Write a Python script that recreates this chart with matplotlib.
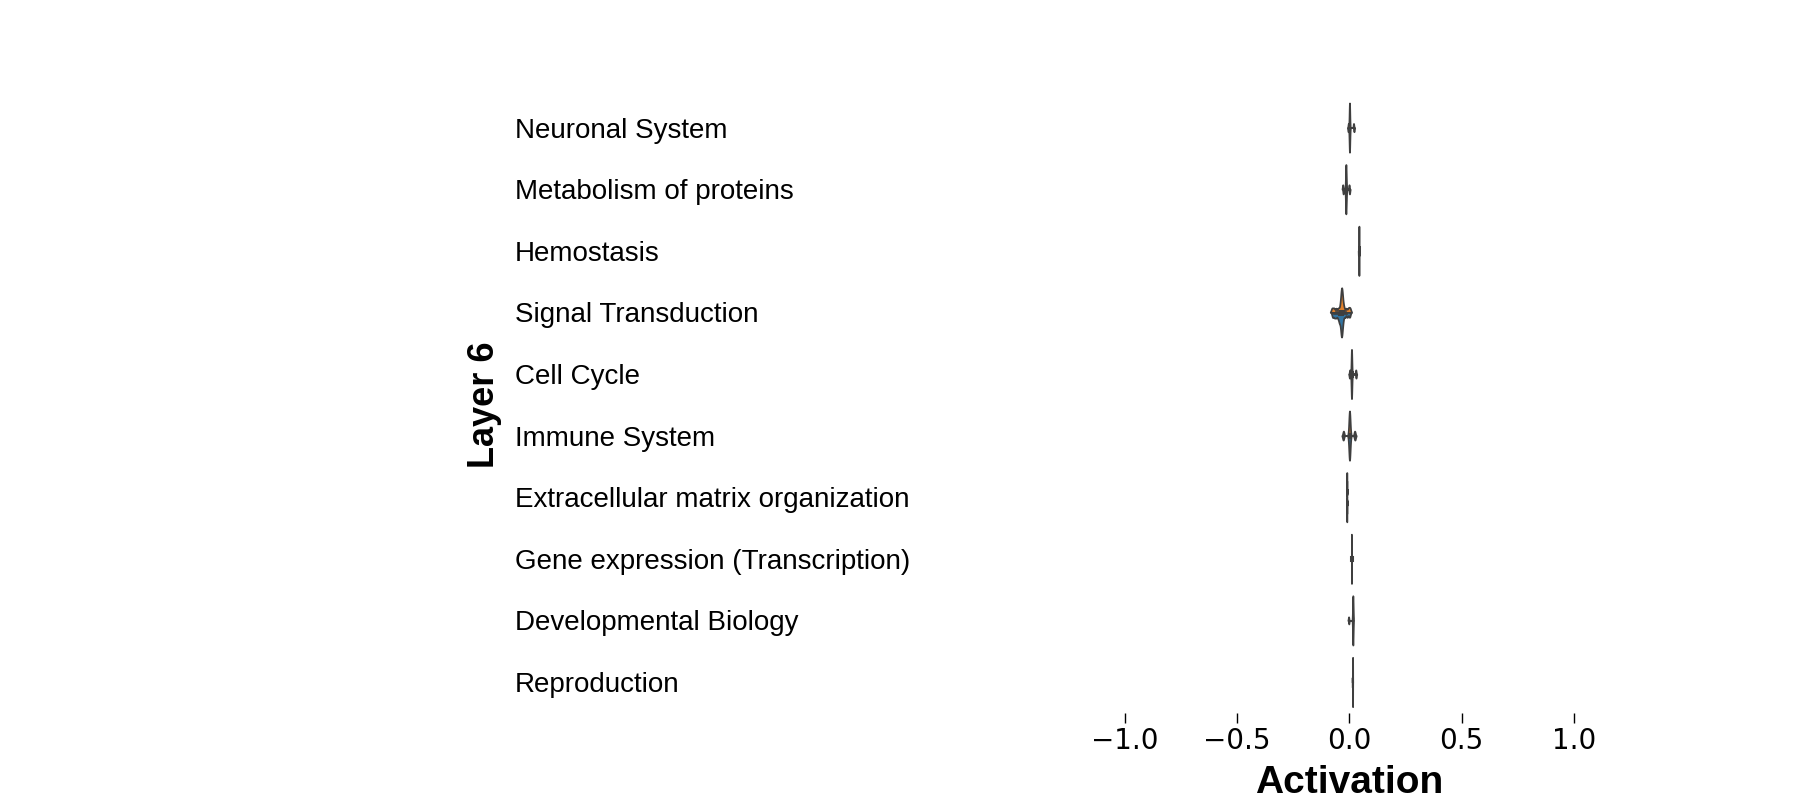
import matplotlib
matplotlib.use("Agg")
from matplotlib import pyplot as plt
import seaborn as sns
import pandas as pd

pathways = ["Neuronal System", "Metabolism of proteins", "Hemostasis",
            "Signal Transduction", "Cell Cycle", "Immune System",
            "Extracellular matrix organization", "Gene expression (Transcription)",
            "Developmental Biology", "Reproduction"]

# activation values per pathway, two groups (top half / bottom half)
group_a = [
    [0.0000, 0.0002, -0.0002, 0.0001, -0.0001, 0.0000, 0.018, -0.005],
    [-0.0160, -0.0158, -0.0162, -0.0160, -0.0150, -0.0170, -0.030, -0.002],
    [0.0420, 0.0421, 0.0419, 0.0421, 0.0419, 0.0420, 0.0400, 0.0440],
    [-0.035, -0.035, -0.034, -0.036, -0.033, -0.038, -0.030, -0.042, -0.025, -0.050,
     -0.060, -0.070, -0.078, -0.015, -0.005, 0.002],
    [0.0090, 0.0092, 0.0088, 0.0091, 0.0089, 0.0090, 0.028, 0.001],
    [0.0000, 0.0004, -0.0004, 0.0000, 0.0020, -0.0020, -0.027, 0.023],
    [-0.0120, -0.0121, -0.0119, -0.0120, -0.0122, -0.0118, -0.0120, -0.0121],
    [0.0090, 0.0091, 0.0089, 0.0090, 0.0092, 0.0088, 0.0090, 0.0091],
    [0.0150, 0.0151, 0.0149, 0.0150, 0.0152, 0.0148, -0.004, 0.0150],
    [0.0140, 0.0141, 0.0139, 0.0140, 0.0142, 0.0138, 0.0120, 0.0140],
]
group_b = [
    [0.0000, 0.0001, -0.0001, 0.0002, -0.0002, 0.0000, 0.020, -0.006],
    [-0.0160, -0.0162, -0.0158, -0.0161, -0.0175, -0.0145, -0.028, 0.000],
    [0.0420, 0.0419, 0.0421, 0.0420, 0.0421, 0.0419, 0.0395, 0.0445],
    [-0.036, -0.035, -0.037, -0.034, -0.039, -0.032, -0.044, -0.028, -0.052, -0.060,
     -0.067, -0.075, -0.020, -0.010, 0.000, -0.046],
    [0.0090, 0.0089, 0.0091, 0.0090, 0.0088, 0.0092, 0.029, 0.000],
    [0.0000, -0.0004, 0.0004, 0.0000, -0.0020, 0.0020, -0.028, 0.024],
    [-0.0120, -0.0119, -0.0121, -0.0120, -0.0118, -0.0122, -0.0121, -0.0120],
    [0.0090, 0.0089, 0.0091, 0.0090, 0.0088, 0.0092, 0.0091, 0.0090],
    [0.0150, 0.0149, 0.0151, 0.0150, 0.0148, 0.0152, -0.003, 0.0150],
    [0.0140, 0.0139, 0.0141, 0.0140, 0.0138, 0.0142, 0.0140, 0.0125],
]

rows = []
for name, a, b in zip(pathways, group_a, group_b):
    for v in a:
        rows.append((name, v, "A"))
    for v in b:
        rows.append((name, v, "B"))
df = pd.DataFrame(rows, columns=["pathway", "activation", "group"])

fig = plt.figure(figsize=(18, 8), dpi=100)
ax = fig.add_axes([0.6, 0.109, 0.2994, 0.770])

sns.violinplot(data=df, x="activation", y="pathway", hue="group", order=pathways,
               hue_order=["A", "B"], split=True, inner="box", orient="h",
               palette=["#ff7f0e", "#1f77b4"], density_norm="width",
               bw_adjust=0.3, inner_kws=dict(box_width=2.2, whis_width=1.2, marker=""),
               legend=False, ax=ax)

ax.set_xlim(-1.2, 1.2)
ax.set_xticks([-1.0, -0.5, 0.0, 0.5, 1.0])
ax.tick_params(axis="x", labelsize=20, length=7, width=1)
ax.set_yticks(range(len(pathways)))
ax.set_yticklabels(pathways, fontsize=20, family="Liberation Sans", ha="left")
ax.tick_params(axis="y", length=0, pad=407)
for s in ax.spines.values():
    s.set_visible(False)

ax.set_xlabel("Activation", fontsize=28, fontweight="bold", family="Liberation Sans", labelpad=7)
ax.set_ylabel("Layer 6", fontsize=26, fontweight="bold", family="Liberation Sans", labelpad=9)

plt.savefig("out.png", dpi=100)
